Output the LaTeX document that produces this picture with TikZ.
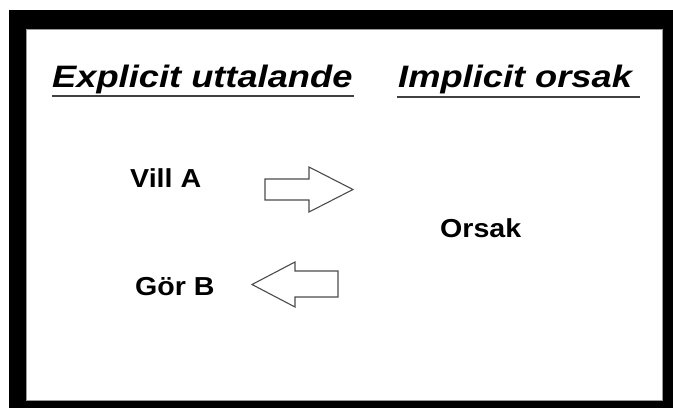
\documentclass[tikz,border=0pt]{standalone}
\usepackage{fontspec}
\setmainfont{Liberation Sans}
\usetikzlibrary{calc}

\tikzset{
  headtext/.style={anchor=base west, inner sep=0pt, font=\fontsize{31}{36}\selectfont\bfseries\itshape},
  wordtext/.style={anchor=base west, inner sep=0pt, font=\fontsize{26}{30}\selectfont\bfseries},
  blockarrow/.style={line width=1.1pt, color=black!70, fill=white}
}

\begin{document}
\begin{tikzpicture}[x=1pt, y=-1pt]
			%%%%% START %%%%%
			\useasboundingbox (0, 0) rectangle (673, 408);
			
			\draw[fill=black, draw=none] (9, 10) rectangle (673, 408);
			\draw[fill=white, draw=black!40, line width=0.6pt] (26, 29) rectangle (662, 400);
			
			\node[headtext] (explicit) at (52, 87) {\scalebox{1.17}[1]{Explicit uttalande}};
			\draw[line width=2pt, color=black!75] (52, 95.5) -- (354, 95.5);
			
			\node[headtext] (implicit) at (398, 87) {\scalebox{1.17}[1]{Implicit orsak}};
			\draw[line width=2pt, color=black!75] (397, 96.5) -- (640, 96.5);
			
			\node[wordtext] (vill) at (130, 187) {\scalebox{1.1}[1]{Vill A}};
			\node[wordtext] (gor) at (135, 295) {\scalebox{1.1}[1]{Gör B}};
			\node[wordtext] (orsak) at (440, 237) {\scalebox{1.1}[1]{Orsak}};
			
			\draw[blockarrow] (265, 179) -- (309, 179) -- (309, 167) -- (353, 189.5) -- (309, 212) -- (309, 200) -- (265, 200) -- cycle;
			\draw[blockarrow] (338, 271) -- (295, 271) -- (295, 262) -- (252, 284.5) -- (295, 307) -- (295, 297) -- (338, 297) -- cycle;
			
			%%%%% END %%%%%
\end{tikzpicture}
\end{document}
